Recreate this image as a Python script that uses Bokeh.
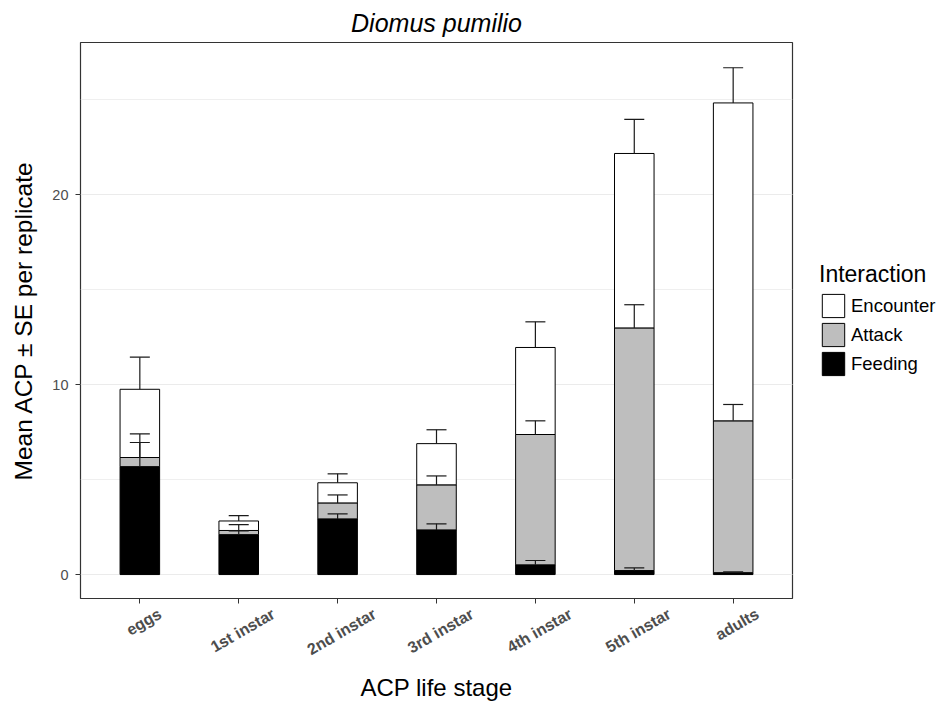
import numpy as np
from math import pi, cos
from bokeh.plotting import figure
from bokeh.models import (ColumnDataSource, Range1d, Whisker, TeeHead,
                          Legend, LegendItem, SingleIntervalTicker, LinearAxis,
                          FixedTicker)
from bokeh.embed import file_html
from bokeh.resources import INLINE

# ---- data ----
stages = ["eggs", "1st instar", "2nd instar", "3rd instar", "4th instar", "5th instar", "adults"]
feeding = [5.68, 2.10, 2.93, 2.35, 0.51, 0.21, 0.10]
attack = [0.48, 0.22, 0.84, 2.37, 6.86, 12.77, 7.99]
encounter = [3.59, 0.50, 1.06, 2.17, 4.58, 9.18, 16.73]
feeding_se = [1.27, 0.20, 0.26, 0.32, 0.23, 0.14, 0.04]
attack_se = [1.24, 0.31, 0.42, 0.47, 0.72, 1.22, 0.86]
encounter_se = [1.69, 0.28, 0.47, 0.73, 1.35, 1.79, 1.85]
series = ["Feeding", "Attack", "Encounter"]
series_colors = ["#000000", "#BEBEBE", "#FFFFFF"]
y_tick_interval = 10

FONT = "Liberation Sans"
W, H = 943, 705
FRAME_L, FRAME_R, FRAME_T, FRAME_B = 80, 792, 42, 598
X_PAD = 0.2          # total discrete padding (ggplot 0.6 each side)
X_LABEL_PX = 16
X_ANGLE = pi / 6

# category slots: stage i sits at i + 0.5 on the discrete scale
xpos = np.arange(len(stages)) + 0.5
f = np.array(feeding)
a = np.array(attack)
e = np.array(encounter)
top_f = f
top_a = f + a
top_e = f + a + e

src = ColumnDataSource(dict(
    x=xpos, stage=stages, Feeding=feeding, Attack=attack, Encounter=encounter,
    top_f=top_f, up_f=top_f + np.array(feeding_se),
    top_a=top_a, up_a=top_a + np.array(attack_se),
    top_e=top_e, up_e=top_e + np.array(encounter_se),
))

p = figure(
    x_range=Range1d(-X_PAD / 2, len(stages) + X_PAD / 2),
    y_range=Range1d(-1.26, 28.0),
    frame_width=FRAME_R - FRAME_L, frame_height=FRAME_B - FRAME_T,
    output_backend="svg", toolbar_location=None,
    min_border_left=FRAME_L, min_border_right=W - FRAME_R,
    min_border_top=FRAME_T, min_border_bottom=H - FRAME_B,
    background_fill_color="white", border_fill_color="white",
)

# bars
renderers = p.vbar_stack(series, x="x", width=0.4, source=src,
                         fill_color=series_colors, line_color="black", line_width=1)

# error bars (drawn above the bars)
for lo, hi in [("top_f", "up_f"), ("top_a", "up_a"), ("top_e", "up_e")]:
    w = Whisker(source=src, base="x", lower=lo, upper=hi, dimension="height",
                line_color="#1A1A1A", line_width=1.2,
                upper_head=TeeHead(size=20, line_color="#1A1A1A", line_width=1.2),
                lower_head=None, level="overlay")
    p.add_layout(w)

# title
p.title.text = "Diomus pumilio"
p.title.text_font = FONT
p.title.text_font_style = "italic"
p.title.text_font_size = "25px"
p.title.text_color = "black"
p.title.align = "center"
p.title.standoff = 12

# panel border
p.outline_line_color = "#333333"
p.outline_line_width = 1.2

# grid
ticker = SingleIntervalTicker(interval=y_tick_interval, num_minor_ticks=2)
p.yaxis.ticker = ticker
p.ygrid.ticker = ticker
p.ygrid.grid_line_color = "#EBEBEB"
p.ygrid.grid_line_width = 1.2
p.ygrid.minor_grid_line_color = "#EBEBEB"
p.ygrid.minor_grid_line_width = 0.8
p.xgrid.grid_line_color = None

# y axis
ya = p.yaxis[0]
ya.axis_line_color = None
ya.major_tick_line_color = "#333333"
ya.major_tick_in = 0
ya.major_tick_out = 5
ya.minor_tick_line_color = None
ya.axis_label = "Mean ACP \u00b1 SE per replicate"
ya.axis_label_text_font = FONT
ya.axis_label_text_font_style = "normal"
ya.axis_label_text_font_size = "24.5px"
ya.axis_label_text_color = "black"
ya.major_label_text_font = FONT
ya.major_label_text_font_size = "14.5px"
ya.major_label_text_color = "#4D4D4D"
ya.major_label_standoff = 7
ya.axis_label_standoff = 12

# x axis: tick marks at each stage
xa = p.xaxis[0]
xa.ticker = FixedTicker(ticks=list(xpos), minor_ticks=[])
xa.axis_line_color = None
xa.major_tick_line_color = "#333333"
xa.major_tick_in = 0
xa.major_tick_out = 5
xa.minor_tick_line_color = None
xa.major_label_overrides = {float(x): "" for x in xpos}
xa.major_label_text_font_size = "1px"
xa.major_label_standoff = 0

# x tick labels: rotated and centred under each stage
BOLD_W = {'e': .556, 'g': .611, 's': .556, '1': .556, 't': .333, ' ': .278, 'i': .278,
          'n': .611, 'a': .556, 'r': .389, '2': .556, 'd': .611, '3': .556, '4': .556,
          'h': .611, '5': .556, 'u': .611, 'l': .278}
px_per_unit = (FRAME_R - FRAME_L) / (len(stages) + X_PAD)
def half_run(s):
    width = sum(BOLD_W.get(c, .556) for c in s) * X_LABEL_PX
    return (width / 2 * cos(X_ANGLE) + 4) / px_per_unit
label_ticks = [round(float(x) + half_run(s), 4) for x, s in zip(xpos, stages)]

lab_axis = LinearAxis(
    ticker=FixedTicker(ticks=label_ticks, minor_ticks=[]),
    major_label_overrides={t: s for t, s in zip(label_ticks, stages)},
    major_label_orientation=X_ANGLE,
    major_label_text_font=FONT, major_label_text_font_size=f"{X_LABEL_PX}px",
    major_label_text_font_style="bold", major_label_text_color="#4D4D4D",
    major_label_standoff=3,
    axis_line_color=None, major_tick_line_color=None, minor_tick_line_color=None,
    axis_label="ACP life stage", axis_label_text_font=FONT,
    axis_label_text_font_size="24px", axis_label_text_font_style="normal",
    axis_label_text_color="black", axis_label_standoff=6,
)
p.add_layout(lab_axis, "below")

# legend beside the panel
items = [LegendItem(label=series[i], renderers=[renderers[i]]) for i in (2, 1, 0)]
legend = Legend(items=items, location=(27, 220), title="Interaction",
                title_text_font=FONT, title_text_font_size="23px", title_text_font_style="normal",
                title_text_color="black", title_standoff=3,
                label_text_font=FONT, label_text_font_size="18.5px", label_text_color="black",
                glyph_width=28, glyph_height=29, spacing=0, padding=0, margin=0,
                label_standoff=4, border_line_color=None, background_fill_alpha=0)
p.add_layout(legend, "right")

open("out.html", "w").write(file_html(p, INLINE))
